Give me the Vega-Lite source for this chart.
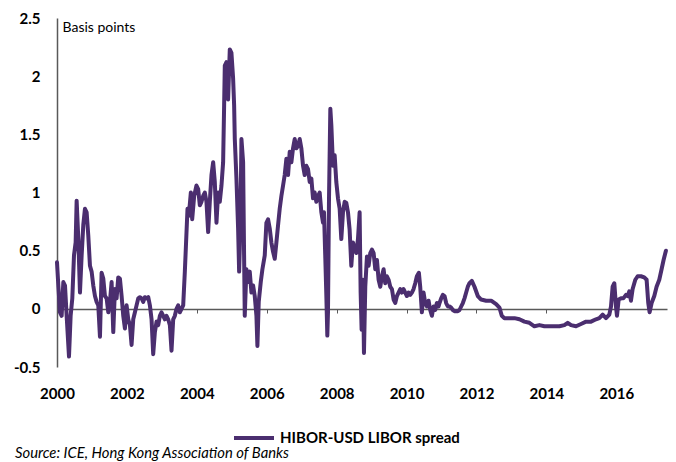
{
  "$schema": "https://vega.github.io/schema/vega-lite/v6.json",
  "width": 610,
  "height": 349,
  "autosize": {"type": "none"},
  "padding": {"left": 57, "top": 18, "right": 9, "bottom": 95},
  "background": "white",
  "title": {
    "text": "Source: ICE, Hong Kong Association of Banks",
    "orient": "bottom",
    "anchor": "start",
    "frame": "group",
    "font": "Lato",
    "fontSize": 14.8,
    "fontStyle": "italic",
    "fontWeight": "normal",
    "color": "#000000",
    "dx": -42,
    "offset": 0
  },
  "config": {
    "view": {"stroke": null},
    "font": "Lato"
  },
  "data": {
    "values": [
      {"year": 2000.0, "spread": 0.40},
      {"year": 2000.038, "spread": 0.20},
      {"year": 2000.086, "spread": -0.03},
      {"year": 2000.133, "spread": -0.06},
      {"year": 2000.181, "spread": 0.23},
      {"year": 2000.229, "spread": 0.20},
      {"year": 2000.276, "spread": -0.06},
      {"year": 2000.343, "spread": -0.41},
      {"year": 2000.39, "spread": -0.06},
      {"year": 2000.438, "spread": 0.09},
      {"year": 2000.486, "spread": 0.46},
      {"year": 2000.533, "spread": 0.57},
      {"year": 2000.562, "spread": 0.93},
      {"year": 2000.61, "spread": 0.60},
      {"year": 2000.657, "spread": 0.14},
      {"year": 2000.705, "spread": 0.46},
      {"year": 2000.752, "spread": 0.72},
      {"year": 2000.8, "spread": 0.86},
      {"year": 2000.848, "spread": 0.83},
      {"year": 2000.895, "spread": 0.63},
      {"year": 2000.943, "spread": 0.37},
      {"year": 2000.99, "spread": 0.32},
      {"year": 2001.038, "spread": 0.20},
      {"year": 2001.086, "spread": 0.11},
      {"year": 2001.133, "spread": 0.06},
      {"year": 2001.181, "spread": 0.03},
      {"year": 2001.229, "spread": -0.24},
      {"year": 2001.276, "spread": 0.31},
      {"year": 2001.324, "spread": 0.26},
      {"year": 2001.371, "spread": 0.11},
      {"year": 2001.419, "spread": 0.09},
      {"year": 2001.467, "spread": -0.03},
      {"year": 2001.514, "spread": 0.06},
      {"year": 2001.562, "spread": 0.23},
      {"year": 2001.61, "spread": -0.20},
      {"year": 2001.657, "spread": 0.17},
      {"year": 2001.705, "spread": 0.09},
      {"year": 2001.752, "spread": 0.27},
      {"year": 2001.8, "spread": 0.26},
      {"year": 2001.848, "spread": 0.11},
      {"year": 2001.895, "spread": -0.06},
      {"year": 2001.943, "spread": -0.17},
      {"year": 2001.99, "spread": 0.03},
      {"year": 2002.038, "spread": -0.09},
      {"year": 2002.086, "spread": -0.14},
      {"year": 2002.133, "spread": -0.31},
      {"year": 2002.181, "spread": -0.09},
      {"year": 2002.229, "spread": -0.03},
      {"year": 2002.276, "spread": 0.03},
      {"year": 2002.324, "spread": 0.09},
      {"year": 2002.371, "spread": 0.10},
      {"year": 2002.419, "spread": 0.09},
      {"year": 2002.467, "spread": 0.06},
      {"year": 2002.514, "spread": 0.10},
      {"year": 2002.562, "spread": 0.09},
      {"year": 2002.61, "spread": 0.10},
      {"year": 2002.657, "spread": 0.03},
      {"year": 2002.705, "spread": -0.09},
      {"year": 2002.752, "spread": -0.39},
      {"year": 2002.8, "spread": -0.20},
      {"year": 2002.848, "spread": -0.11},
      {"year": 2002.895, "spread": -0.14},
      {"year": 2002.943, "spread": -0.06},
      {"year": 2002.99, "spread": -0.03},
      {"year": 2003.038, "spread": -0.06},
      {"year": 2003.086, "spread": -0.09},
      {"year": 2003.133, "spread": -0.06},
      {"year": 2003.181, "spread": -0.09},
      {"year": 2003.229, "spread": -0.14},
      {"year": 2003.276, "spread": -0.36},
      {"year": 2003.324, "spread": -0.09},
      {"year": 2003.371, "spread": -0.06},
      {"year": 2003.419, "spread": 0.00},
      {"year": 2003.467, "spread": 0.03},
      {"year": 2003.514, "spread": -0.03},
      {"year": 2003.562, "spread": 0.00},
      {"year": 2003.61, "spread": 0.03},
      {"year": 2003.657, "spread": 0.32},
      {"year": 2003.733, "spread": 0.86},
      {"year": 2003.771, "spread": 0.80},
      {"year": 2003.829, "spread": 1.00},
      {"year": 2003.867, "spread": 0.77},
      {"year": 2003.924, "spread": 0.97},
      {"year": 2003.99, "spread": 1.06},
      {"year": 2004.038, "spread": 1.03},
      {"year": 2004.086, "spread": 0.89},
      {"year": 2004.133, "spread": 0.92},
      {"year": 2004.181, "spread": 0.97},
      {"year": 2004.229, "spread": 1.00},
      {"year": 2004.276, "spread": 0.92},
      {"year": 2004.324, "spread": 0.66},
      {"year": 2004.371, "spread": 0.92},
      {"year": 2004.419, "spread": 1.15},
      {"year": 2004.467, "spread": 1.26},
      {"year": 2004.514, "spread": 1.09},
      {"year": 2004.562, "spread": 0.74},
      {"year": 2004.61, "spread": 1.00},
      {"year": 2004.657, "spread": 0.92},
      {"year": 2004.705, "spread": 1.06},
      {"year": 2004.752, "spread": 1.26},
      {"year": 2004.781, "spread": 1.75},
      {"year": 2004.8, "spread": 2.09},
      {"year": 2004.848, "spread": 2.12},
      {"year": 2004.895, "spread": 1.80},
      {"year": 2004.943, "spread": 2.23},
      {"year": 2004.99, "spread": 2.20},
      {"year": 2005.038, "spread": 1.98},
      {"year": 2005.067, "spread": 1.75},
      {"year": 2005.086, "spread": 1.46},
      {"year": 2005.133, "spread": 1.12},
      {"year": 2005.181, "spread": 0.69},
      {"year": 2005.21, "spread": 0.32},
      {"year": 2005.248, "spread": 0.74},
      {"year": 2005.276, "spread": 1.46},
      {"year": 2005.324, "spread": 1.26},
      {"year": 2005.352, "spread": 0.46},
      {"year": 2005.371, "spread": -0.06},
      {"year": 2005.419, "spread": 0.34},
      {"year": 2005.467, "spread": 0.23},
      {"year": 2005.514, "spread": 0.32},
      {"year": 2005.562, "spread": 0.14},
      {"year": 2005.61, "spread": 0.20},
      {"year": 2005.657, "spread": 0.11},
      {"year": 2005.705, "spread": -0.06},
      {"year": 2005.733, "spread": -0.32},
      {"year": 2005.771, "spread": 0.06},
      {"year": 2005.829, "spread": 0.23},
      {"year": 2005.876, "spread": 0.34},
      {"year": 2005.943, "spread": 0.46},
      {"year": 2005.99, "spread": 0.74},
      {"year": 2006.038, "spread": 0.77},
      {"year": 2006.086, "spread": 0.69},
      {"year": 2006.133, "spread": 0.57},
      {"year": 2006.181, "spread": 0.49},
      {"year": 2006.229, "spread": 0.43},
      {"year": 2006.276, "spread": 0.57},
      {"year": 2006.324, "spread": 0.72},
      {"year": 2006.371, "spread": 0.86},
      {"year": 2006.419, "spread": 0.97},
      {"year": 2006.467, "spread": 1.06},
      {"year": 2006.514, "spread": 1.15},
      {"year": 2006.562, "spread": 1.29},
      {"year": 2006.61, "spread": 1.15},
      {"year": 2006.657, "spread": 1.35},
      {"year": 2006.705, "spread": 1.26},
      {"year": 2006.752, "spread": 1.38},
      {"year": 2006.8, "spread": 1.46},
      {"year": 2006.848, "spread": 1.38},
      {"year": 2006.895, "spread": 1.40},
      {"year": 2006.943, "spread": 1.46},
      {"year": 2006.99, "spread": 1.38},
      {"year": 2007.038, "spread": 1.23},
      {"year": 2007.086, "spread": 1.15},
      {"year": 2007.133, "spread": 1.23},
      {"year": 2007.181, "spread": 1.20},
      {"year": 2007.229, "spread": 1.09},
      {"year": 2007.276, "spread": 1.12},
      {"year": 2007.324, "spread": 0.95},
      {"year": 2007.371, "spread": 1.00},
      {"year": 2007.419, "spread": 0.92},
      {"year": 2007.467, "spread": 0.97},
      {"year": 2007.514, "spread": 1.00},
      {"year": 2007.562, "spread": 0.83},
      {"year": 2007.61, "spread": 0.74},
      {"year": 2007.638, "spread": 0.83},
      {"year": 2007.676, "spread": 0.43},
      {"year": 2007.705, "spread": 0.11},
      {"year": 2007.733, "spread": -0.23},
      {"year": 2007.752, "spread": -0.03},
      {"year": 2007.781, "spread": 0.95},
      {"year": 2007.819, "spread": 1.72},
      {"year": 2007.848, "spread": 1.58},
      {"year": 2007.895, "spread": 1.23},
      {"year": 2007.943, "spread": 1.32},
      {"year": 2007.99, "spread": 1.09},
      {"year": 2008.038, "spread": 0.95},
      {"year": 2008.086, "spread": 0.86},
      {"year": 2008.133, "spread": 0.60},
      {"year": 2008.181, "spread": 0.83},
      {"year": 2008.229, "spread": 0.92},
      {"year": 2008.276, "spread": 0.91},
      {"year": 2008.324, "spread": 0.83},
      {"year": 2008.371, "spread": 0.68},
      {"year": 2008.419, "spread": 0.37},
      {"year": 2008.467, "spread": 0.57},
      {"year": 2008.514, "spread": 0.51},
      {"year": 2008.562, "spread": 0.48},
      {"year": 2008.61, "spread": 0.60},
      {"year": 2008.657, "spread": 0.83},
      {"year": 2008.686, "spread": 0.14},
      {"year": 2008.714, "spread": -0.18},
      {"year": 2008.752, "spread": 0.25},
      {"year": 2008.781, "spread": -0.38},
      {"year": 2008.819, "spread": 0.19},
      {"year": 2008.867, "spread": 0.45},
      {"year": 2008.914, "spread": 0.37},
      {"year": 2008.962, "spread": 0.48},
      {"year": 2009.01, "spread": 0.51},
      {"year": 2009.057, "spread": 0.48},
      {"year": 2009.105, "spread": 0.34},
      {"year": 2009.152, "spread": 0.42},
      {"year": 2009.2, "spread": 0.25},
      {"year": 2009.248, "spread": 0.19},
      {"year": 2009.295, "spread": 0.28},
      {"year": 2009.343, "spread": 0.34},
      {"year": 2009.39, "spread": 0.22},
      {"year": 2009.438, "spread": 0.28},
      {"year": 2009.486, "spread": 0.25},
      {"year": 2009.533, "spread": 0.19},
      {"year": 2009.581, "spread": 0.17},
      {"year": 2009.629, "spread": 0.08},
      {"year": 2009.676, "spread": 0.05},
      {"year": 2009.724, "spread": 0.11},
      {"year": 2009.771, "spread": 0.14},
      {"year": 2009.819, "spread": 0.17},
      {"year": 2009.867, "spread": 0.14},
      {"year": 2009.914, "spread": 0.17},
      {"year": 2009.962, "spread": 0.14},
      {"year": 2010.01, "spread": 0.11},
      {"year": 2010.057, "spread": 0.14},
      {"year": 2010.105, "spread": 0.12},
      {"year": 2010.152, "spread": 0.14},
      {"year": 2010.2, "spread": 0.17},
      {"year": 2010.248, "spread": 0.22},
      {"year": 2010.295, "spread": 0.28},
      {"year": 2010.352, "spread": 0.31},
      {"year": 2010.39, "spread": 0.19},
      {"year": 2010.438, "spread": -0.03},
      {"year": 2010.486, "spread": 0.14},
      {"year": 2010.533, "spread": 0.05},
      {"year": 2010.581, "spread": 0.02},
      {"year": 2010.629, "spread": 0.07},
      {"year": 2010.676, "spread": -0.01},
      {"year": 2010.724, "spread": -0.06},
      {"year": 2010.771, "spread": 0.02},
      {"year": 2010.819, "spread": -0.01},
      {"year": 2010.867, "spread": 0.05},
      {"year": 2010.914, "spread": 0.02},
      {"year": 2010.943, "spread": 0.05},
      {"year": 2010.99, "spread": 0.09},
      {"year": 2011.038, "spread": 0.12},
      {"year": 2011.086, "spread": 0.11},
      {"year": 2011.133, "spread": 0.05},
      {"year": 2011.181, "spread": 0.02},
      {"year": 2011.229, "spread": 0.02},
      {"year": 2011.276, "spread": 0.01},
      {"year": 2011.324, "spread": -0.01},
      {"year": 2011.371, "spread": -0.02},
      {"year": 2011.419, "spread": -0.02},
      {"year": 2011.467, "spread": -0.02},
      {"year": 2011.514, "spread": -0.01},
      {"year": 2011.562, "spread": 0.02},
      {"year": 2011.61, "spread": 0.05},
      {"year": 2011.657, "spread": 0.09},
      {"year": 2011.705, "spread": 0.14},
      {"year": 2011.752, "spread": 0.19},
      {"year": 2011.8, "spread": 0.22},
      {"year": 2011.867, "spread": 0.24},
      {"year": 2011.943, "spread": 0.19},
      {"year": 2012.038, "spread": 0.11},
      {"year": 2012.133, "spread": 0.08},
      {"year": 2012.276, "spread": 0.07},
      {"year": 2012.419, "spread": 0.07},
      {"year": 2012.562, "spread": 0.04},
      {"year": 2012.657, "spread": 0.01},
      {"year": 2012.724, "spread": -0.06},
      {"year": 2012.8, "spread": -0.08},
      {"year": 2012.943, "spread": -0.08},
      {"year": 2013.086, "spread": -0.08},
      {"year": 2013.229, "spread": -0.09},
      {"year": 2013.371, "spread": -0.11},
      {"year": 2013.514, "spread": -0.12},
      {"year": 2013.657, "spread": -0.15},
      {"year": 2013.8, "spread": -0.14},
      {"year": 2013.943, "spread": -0.15},
      {"year": 2014.086, "spread": -0.15},
      {"year": 2014.229, "spread": -0.15},
      {"year": 2014.371, "spread": -0.15},
      {"year": 2014.514, "spread": -0.14},
      {"year": 2014.61, "spread": -0.12},
      {"year": 2014.705, "spread": -0.14},
      {"year": 2014.848, "spread": -0.15},
      {"year": 2014.99, "spread": -0.13},
      {"year": 2015.133, "spread": -0.11},
      {"year": 2015.276, "spread": -0.11},
      {"year": 2015.419, "spread": -0.09},
      {"year": 2015.514, "spread": -0.08},
      {"year": 2015.61, "spread": -0.05},
      {"year": 2015.705, "spread": -0.08},
      {"year": 2015.8, "spread": -0.05},
      {"year": 2015.848, "spread": 0.02},
      {"year": 2015.895, "spread": 0.19},
      {"year": 2015.943, "spread": 0.22},
      {"year": 2015.99, "spread": 0.02},
      {"year": 2016.019, "spread": -0.06},
      {"year": 2016.067, "spread": 0.08},
      {"year": 2016.133, "spread": 0.09},
      {"year": 2016.2, "spread": 0.09},
      {"year": 2016.276, "spread": 0.12},
      {"year": 2016.324, "spread": 0.11},
      {"year": 2016.371, "spread": 0.15},
      {"year": 2016.419, "spread": 0.07},
      {"year": 2016.467, "spread": 0.17},
      {"year": 2016.543, "spread": 0.25},
      {"year": 2016.61, "spread": 0.28},
      {"year": 2016.705, "spread": 0.28},
      {"year": 2016.8, "spread": 0.27},
      {"year": 2016.867, "spread": 0.25},
      {"year": 2016.914, "spread": 0.05},
      {"year": 2016.952, "spread": -0.03},
      {"year": 2017.01, "spread": 0.05},
      {"year": 2017.086, "spread": 0.11},
      {"year": 2017.152, "spread": 0.19},
      {"year": 2017.229, "spread": 0.25},
      {"year": 2017.295, "spread": 0.34},
      {"year": 2017.352, "spread": 0.42},
      {"year": 2017.419, "spread": 0.50}
    ]
  },
  "mark": {"type": "line", "strokeWidth": 4, "strokeJoin": "round", "strokeCap": "round"},
  "encoding": {
    "x": {
      "field": "year",
      "type": "quantitative",
      "scale": {"domain": [2000, 2017.45], "nice": false, "zero": false},
      "axis": {
        "title": null,
        "values": [2000, 2002, 2004, 2006, 2008, 2010, 2012, 2014, 2016],
        "format": "d",
        "grid": false,
        "offset": -58,
        "domainColor": "#595959",
        "domainWidth": 1.5,
        "ticks": true,
        "tickSize": 4,
        "tickColor": "#595959",
        "tickWidth": 1,
        "labelPadding": 73,
        "labelFont": "Lato",
        "labelFontSize": 15,
        "labelFontWeight": "bold",
        "labelColor": "#000000",
        "labelFlush": false
      }
    },
    "y": {
      "field": "spread",
      "type": "quantitative",
      "scale": {"domain": [-0.5, 2.5], "nice": false, "zero": false},
      "axis": {
        "title": "Basis points",
        "titleAngle": 0,
        "titleAlign": "left",
        "titleBaseline": "top",
        "titleX": 5,
        "titleY": 2,
        "titleFont": "Lato",
        "titleFontSize": 14,
        "titleFontWeight": "normal",
        "titleColor": "#000000",
        "values": [-0.5, 0, 0.5, 1, 1.5, 2, 2.5],
        "labelExpr": "replace(format(datum.value, ''), '−', '-')",
        "grid": false,
        "ticks": false,
        "domainColor": "#595959",
        "domainWidth": 1.5,
        "labelPadding": 17,
        "labelFont": "Lato",
        "labelFontSize": 15,
        "labelFontWeight": "bold",
        "labelColor": "#000000"
      }
    },
    "color": {
      "datum": "HIBOR-USD LIBOR spread",
      "scale": {"range": ["#4b2e6f"]},
      "legend": {
        "title": null,
        "orient": "none",
        "legendX": 175,
        "legendY": 398,
        "symbolType": "stroke",
        "symbolSize": 1600,
        "symbolStrokeWidth": 4,
        "labelOffset": 4,
        "labelLimit": 0,
        "labelFont": "Lato",
        "labelFontSize": 15,
        "labelFontWeight": "bold",
        "labelColor": "#000000"
      }
    }
  }
}
